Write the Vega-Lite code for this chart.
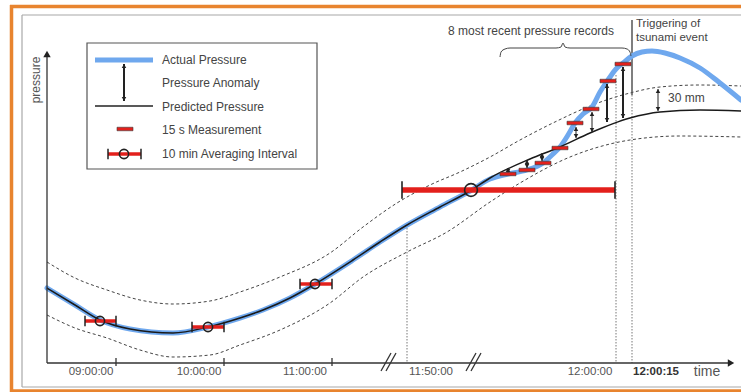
{
  "$schema": "https://vega.github.io/schema/vega-lite/v6.json",
  "width": 741,
  "height": 392,
  "padding": 0,
  "autosize": {"type": "none"},
  "config": {"view": {"stroke": null}, "text": {"font": "Liberation Sans"}},
  "datasets": {
    "curves": [
      {"series": "upper", "x": 47, "y": 262}, {"series": "upper", "x": 75, "y": 278}, {"series": "upper", "x": 107, "y": 290}, {"series": "upper", "x": 140, "y": 300}, {"series": "upper", "x": 173, "y": 304}, {"series": "upper", "x": 210, "y": 301}, {"series": "upper", "x": 240, "y": 292}, {"series": "upper", "x": 280, "y": 277}, {"series": "upper", "x": 330, "y": 253}, {"series": "upper", "x": 363, "y": 227}, {"series": "upper", "x": 397, "y": 203}, {"series": "upper", "x": 430, "y": 185}, {"series": "upper", "x": 460, "y": 172}, {"series": "upper", "x": 490, "y": 157}, {"series": "upper", "x": 520, "y": 140}, {"series": "upper", "x": 557, "y": 121}, {"series": "upper", "x": 590, "y": 106}, {"series": "upper", "x": 630, "y": 93}, {"series": "upper", "x": 660, "y": 87}, {"series": "upper", "x": 700, "y": 85}, {"series": "upper", "x": 741, "y": 86},
      {"series": "lower", "x": 47, "y": 315}, {"series": "lower", "x": 75, "y": 328}, {"series": "lower", "x": 107, "y": 338}, {"series": "lower", "x": 140, "y": 350}, {"series": "lower", "x": 173, "y": 357}, {"series": "lower", "x": 210, "y": 355}, {"series": "lower", "x": 240, "y": 345}, {"series": "lower", "x": 280, "y": 330}, {"series": "lower", "x": 330, "y": 303}, {"series": "lower", "x": 363, "y": 277}, {"series": "lower", "x": 407, "y": 252}, {"series": "lower", "x": 447, "y": 232}, {"series": "lower", "x": 490, "y": 202}, {"series": "lower", "x": 520, "y": 183}, {"series": "lower", "x": 570, "y": 157}, {"series": "lower", "x": 630, "y": 140}, {"series": "lower", "x": 680, "y": 136}, {"series": "lower", "x": 741, "y": 137},
      {"series": "predicted", "x": 47, "y": 288}, {"series": "predicted", "x": 75, "y": 305}, {"series": "predicted", "x": 100, "y": 320}, {"series": "predicted", "x": 130, "y": 329}, {"series": "predicted", "x": 173, "y": 333}, {"series": "predicted", "x": 208, "y": 327}, {"series": "predicted", "x": 240, "y": 318}, {"series": "predicted", "x": 263, "y": 310}, {"series": "predicted", "x": 290, "y": 298}, {"series": "predicted", "x": 315, "y": 284}, {"series": "predicted", "x": 353, "y": 260}, {"series": "predicted", "x": 380, "y": 242}, {"series": "predicted", "x": 407, "y": 225}, {"series": "predicted", "x": 440, "y": 207}, {"series": "predicted", "x": 470, "y": 191}, {"series": "predicted", "x": 490, "y": 178}, {"series": "predicted", "x": 530, "y": 159}, {"series": "predicted", "x": 560, "y": 147}, {"series": "predicted", "x": 590, "y": 133}, {"series": "predicted", "x": 630, "y": 118}, {"series": "predicted", "x": 660, "y": 112}, {"series": "predicted", "x": 700, "y": 110}, {"series": "predicted", "x": 741, "y": 111},
      {"series": "actual", "x": 47, "y": 288}, {"series": "actual", "x": 75, "y": 305}, {"series": "actual", "x": 100, "y": 320}, {"series": "actual", "x": 130, "y": 329}, {"series": "actual", "x": 173, "y": 333}, {"series": "actual", "x": 208, "y": 327}, {"series": "actual", "x": 240, "y": 318}, {"series": "actual", "x": 263, "y": 310}, {"series": "actual", "x": 290, "y": 298}, {"series": "actual", "x": 315, "y": 284}, {"series": "actual", "x": 353, "y": 260}, {"series": "actual", "x": 380, "y": 242}, {"series": "actual", "x": 407, "y": 225}, {"series": "actual", "x": 440, "y": 207}, {"series": "actual", "x": 470, "y": 191}, {"series": "actual", "x": 490, "y": 179}, {"series": "actual", "x": 508, "y": 174}, {"series": "actual", "x": 527, "y": 170}, {"series": "actual", "x": 543, "y": 163}, {"series": "actual", "x": 552, "y": 155}, {"series": "actual", "x": 560, "y": 147}, {"series": "actual", "x": 568, "y": 135}, {"series": "actual", "x": 575, "y": 123}, {"series": "actual", "x": 583, "y": 114}, {"series": "actual", "x": 592, "y": 107}, {"series": "actual", "x": 600, "y": 92}, {"series": "actual", "x": 608, "y": 80}, {"series": "actual", "x": 616, "y": 69}, {"series": "actual", "x": 623, "y": 63}, {"series": "actual", "x": 632, "y": 56}, {"series": "actual", "x": 642, "y": 52}, {"series": "actual", "x": 652, "y": 51}, {"series": "actual", "x": 665, "y": 53}, {"series": "actual", "x": 680, "y": 58}, {"series": "actual", "x": 700, "y": 68}, {"series": "actual", "x": 720, "y": 83}, {"series": "actual", "x": 741, "y": 100},
      {"series": "brace", "x": 500, "y": 57}, {"series": "brace", "x": 501, "y": 52}, {"series": "brace", "x": 505, "y": 49}, {"series": "brace", "x": 510, "y": 48}, {"series": "brace", "x": 556, "y": 48}, {"series": "brace", "x": 561, "y": 47}, {"series": "brace", "x": 563, "y": 43}, {"series": "brace", "x": 565, "y": 47}, {"series": "brace", "x": 570, "y": 48}, {"series": "brace", "x": 622, "y": 48}, {"series": "brace", "x": 627, "y": 49}, {"series": "brace", "x": 630, "y": 52}, {"series": "brace", "x": 631, "y": 56}
    ],
    "segments": [
      {"part": "border", "x": 10, "y": 6.5, "x2": 741, "y2": 6.5},
      {"part": "border", "x": 11.5, "y": 5, "x2": 11.5, "y2": 392},
      {"part": "border", "x": 10, "y": 391, "x2": 741, "y2": 391},
      {"part": "panel", "x": 22, "y": 15, "x2": 741, "y2": 15},
      {"part": "panel", "x": 22, "y": 15, "x2": 22, "y2": 387},
      {"part": "panel", "x": 22, "y": 387, "x2": 741, "y2": 387},
      {"part": "axis", "x": 47, "y": 363, "x2": 47, "y2": 55},
      {"part": "axis", "x": 47, "y": 363, "x2": 728, "y2": 363},
      {"part": "tick", "x": 116, "y": 358, "x2": 116, "y2": 366},
      {"part": "tick", "x": 224, "y": 358, "x2": 224, "y2": 366},
      {"part": "tick", "x": 332, "y": 358, "x2": 332, "y2": 366},
      {"part": "break", "x": 381, "y": 371, "x2": 391, "y2": 353},
      {"part": "break", "x": 386, "y": 371, "x2": 396, "y2": 353},
      {"part": "break", "x": 466, "y": 371, "x2": 476, "y2": 353},
      {"part": "break", "x": 471, "y": 371, "x2": 481, "y2": 353},
      {"part": "guide", "x": 407, "y": 225, "x2": 407, "y2": 363},
      {"part": "guide", "x": 616, "y": 75, "x2": 616, "y2": 363},
      {"part": "guide", "x": 632, "y": 95, "x2": 632, "y2": 363},
      {"part": "trigger", "x": 632, "y": 20, "x2": 632, "y2": 95},
      {"part": "legendBox", "x": 87, "y": 43, "x2": 317, "y2": 169},
      {"part": "keyActual", "x": 95, "y": 60, "x2": 153, "y2": 60},
      {"part": "keyPredicted", "x": 95, "y": 106, "x2": 153, "y2": 106}
    ],
    "axisHeads": [
      {"x": 47, "y": 54, "dir": "up"},
      {"x": 731, "y": 363, "dir": "right"}
    ],
    "arrows": [
      {"x": 124, "y": 64, "y2": 101, "weight": "thick"},
      {"x": 508, "y": 168, "y2": 173, "weight": "thin"},
      {"x": 527, "y": 160, "y2": 168, "weight": "thin"},
      {"x": 542, "y": 153, "y2": 161, "weight": "thin"},
      {"x": 576, "y": 127, "y2": 138, "weight": "thin"},
      {"x": 592, "y": 112, "y2": 132, "weight": "thin"},
      {"x": 607, "y": 84, "y2": 122, "weight": "thick"},
      {"x": 623, "y": 67, "y2": 118, "weight": "thick"},
      {"x": 658, "y": 89, "y2": 111, "weight": "thin"}
    ],
    "averages": [
      {"x": 124, "y": 154, "lo": 108, "hi": 141, "scope": "hourly"},
      {"x": 100, "y": 321, "lo": 85, "hi": 116, "scope": "hourly"},
      {"x": 208, "y": 327, "lo": 192, "hi": 224, "scope": "hourly"},
      {"x": 315, "y": 284, "lo": 300, "hi": 332, "scope": "hourly"},
      {"x": 471, "y": 190, "lo": 402, "hi": 615, "scope": "latest"}
    ],
    "measurements": [
      {"x": 125, "y": 129},
      {"x": 508, "y": 174},
      {"x": 527, "y": 170},
      {"x": 543, "y": 163},
      {"x": 560, "y": 148},
      {"x": 575, "y": 123},
      {"x": 591, "y": 109},
      {"x": 608, "y": 81},
      {"x": 623, "y": 64}
    ],
    "texts": [
      {"group": "left", "x": 162, "y": 60, "label": "Actual Pressure"},
      {"group": "left", "x": 162, "y": 83, "label": "Pressure Anomaly"},
      {"group": "left", "x": 162, "y": 107, "label": "Predicted Pressure"},
      {"group": "left", "x": 162, "y": 130, "label": "15 s Measurement"},
      {"group": "left", "x": 162, "y": 154, "label": "10 min Averaging Interval"},
      {"group": "note", "x": 636, "y": 24, "label": "Triggering of"},
      {"group": "note", "x": 636, "y": 37.5, "label": "tsunami event"},
      {"group": "left", "x": 668, "y": 98, "label": "30 mm"},
      {"group": "center", "x": 531, "y": 31, "label": "8 most recent pressure records"},
      {"group": "axis", "x": 91, "y": 372, "label": "09:00:00"},
      {"group": "axis", "x": 199, "y": 372, "label": "10:00:00"},
      {"group": "axis", "x": 305, "y": 372, "label": "11:00:00"},
      {"group": "axis", "x": 431, "y": 372, "label": "11:50:00"},
      {"group": "axis", "x": 590, "y": 372, "label": "12:00:00"},
      {"group": "trigger", "x": 656, "y": 372, "label": "12:00:15"},
      {"group": "unit", "x": 707, "y": 372, "label": "time"},
      {"group": "vertical", "x": 36, "y": 80, "label": "pressure"}
    ]
  },
  "encoding": {
    "x": {"field": "x", "type": "quantitative", "scale": {"domain": [0, 741], "nice": false, "zero": false}, "axis": null},
    "y": {"field": "y", "type": "quantitative", "scale": {"domain": [0, 392], "nice": false, "zero": false, "reverse": true}, "axis": null}
  },
  "layer": [
    {"data": {"name": "segments"}, "transform": [{"filter": "datum.part == 'border'"}],
     "mark": {"type": "rule", "color": "#e8842f", "strokeWidth": 3.5},
     "encoding": {"x2": {"field": "x2"}, "y2": {"field": "y2"}}},
    {"data": {"name": "segments"}, "transform": [{"filter": "datum.part == 'panel'"}],
     "mark": {"type": "rule", "color": "#a8a8a8", "strokeWidth": 1.2},
     "encoding": {"x2": {"field": "x2"}, "y2": {"field": "y2"}}},
    {"data": {"name": "curves"}, "transform": [{"filter": "datum.series == 'upper' || datum.series == 'lower'"}],
     "mark": {"type": "line", "interpolate": "monotone", "color": "#444", "strokeWidth": 1, "strokeDash": [3, 2.5]},
     "encoding": {"detail": {"field": "series"}}},
    {"data": {"name": "segments"}, "transform": [{"filter": "datum.part == 'guide'"}],
     "mark": {"type": "rule", "color": "#777", "strokeWidth": 1, "strokeDash": [1.5, 1.5]},
     "encoding": {"x2": {"field": "x2"}, "y2": {"field": "y2"}}},
    {"data": {"name": "segments"}, "transform": [{"filter": "datum.part == 'trigger'"}],
     "mark": {"type": "rule", "color": "#555", "strokeWidth": 1.5},
     "encoding": {"x2": {"field": "x2"}, "y2": {"field": "y2"}}},
    {"data": {"name": "curves"}, "transform": [{"filter": "datum.series == 'actual'"}],
     "mark": {"type": "line", "interpolate": "monotone", "color": "#6fa8ee", "strokeWidth": 5, "strokeCap": "round"}},
    {"data": {"name": "curves"}, "transform": [{"filter": "datum.series == 'predicted'"}],
     "mark": {"type": "line", "interpolate": "monotone", "color": "#1a1a1a", "strokeWidth": 1.5}},
    {"data": {"name": "curves"}, "transform": [{"filter": "datum.series == 'brace'"}],
     "mark": {"type": "line", "interpolate": "monotone", "color": "#444", "strokeWidth": 1}},
    {"data": {"name": "segments"}, "transform": [{"filter": "datum.part == 'axis'"}],
     "mark": {"type": "rule", "color": "#333", "strokeWidth": 1.3},
     "encoding": {"x2": {"field": "x2"}, "y2": {"field": "y2"}}},
    {"data": {"name": "segments"}, "transform": [{"filter": "datum.part == 'tick' || datum.part == 'break'"}],
     "mark": {"type": "rule", "color": "#333", "strokeWidth": 1.3},
     "encoding": {"x2": {"field": "x2"}, "y2": {"field": "y2"}}},
    {"data": {"name": "axisHeads"},
     "mark": {"type": "point", "filled": true, "color": "#222", "size": 55, "opacity": 1},
     "encoding": {"shape": {"field": "dir", "type": "nominal", "scale": {"domain": ["up", "right"], "range": ["triangle-up", "triangle-right"]}, "legend": null}}},
    {"data": {"name": "segments"}, "transform": [{"filter": "datum.part == 'legendBox'"}],
     "mark": {"type": "rect", "fill": "#ffffff", "fillOpacity": 0, "stroke": "#555", "strokeWidth": 1.2},
     "encoding": {"x2": {"field": "x2"}, "y2": {"field": "y2"}}},
    {"data": {"name": "segments"}, "transform": [{"filter": "datum.part == 'keyActual'"}],
     "mark": {"type": "rule", "color": "#6fa8ee", "strokeWidth": 5},
     "encoding": {"x2": {"field": "x2"}, "y2": {"field": "y2"}}},
    {"data": {"name": "segments"}, "transform": [{"filter": "datum.part == 'keyPredicted'"}],
     "mark": {"type": "rule", "color": "#222", "strokeWidth": 1.3},
     "encoding": {"x2": {"field": "x2"}, "y2": {"field": "y2"}}},
    {"data": {"name": "arrows"}, "transform": [{"filter": "datum.weight == 'thin'"}],
     "mark": {"type": "rule", "color": "#222", "strokeWidth": 1},
     "encoding": {"y2": {"field": "y2"}}},
    {"data": {"name": "arrows"}, "transform": [{"filter": "datum.weight == 'thick'"}],
     "mark": {"type": "rule", "color": "#222", "strokeWidth": 2},
     "encoding": {"y2": {"field": "y2"}}},
    {"data": {"name": "arrows"},
     "mark": {"type": "point", "shape": "triangle-up", "filled": true, "color": "#222", "size": 20, "opacity": 1, "yOffset": 2}},
    {"data": {"name": "arrows"},
     "mark": {"type": "point", "shape": "triangle-down", "filled": true, "color": "#222", "size": 20, "opacity": 1, "yOffset": -2},
     "encoding": {"y": {"field": "y2", "type": "quantitative"}}},
    {"data": {"name": "averages"}, "transform": [{"filter": "datum.scope == 'hourly'"}],
     "mark": {"type": "rule", "color": "#e3201c", "strokeWidth": 3.5},
     "encoding": {"x": {"field": "lo", "type": "quantitative"}, "x2": {"field": "hi"}}},
    {"data": {"name": "averages"}, "transform": [{"filter": "datum.scope == 'latest'"}],
     "mark": {"type": "rule", "color": "#e3201c", "strokeWidth": 5.5},
     "encoding": {"x": {"field": "lo", "type": "quantitative"}, "x2": {"field": "hi"}}},
    {"data": {"name": "averages"}, "transform": [{"filter": "datum.scope == 'hourly'"}],
     "mark": {"type": "point", "shape": "M0,-1V1", "filled": false, "color": "#222", "strokeWidth": 1.5, "opacity": 1, "size": 110},
     "encoding": {"x": {"field": "lo", "type": "quantitative"}}},
    {"data": {"name": "averages"}, "transform": [{"filter": "datum.scope == 'hourly'"}],
     "mark": {"type": "point", "shape": "M0,-1V1", "filled": false, "color": "#222", "strokeWidth": 1.5, "opacity": 1, "size": 110},
     "encoding": {"x": {"field": "hi", "type": "quantitative"}}},
    {"data": {"name": "averages"}, "transform": [{"filter": "datum.scope == 'latest'"}],
     "mark": {"type": "point", "shape": "M0,-1V1", "filled": false, "color": "#222", "strokeWidth": 1.6, "opacity": 1, "size": 300},
     "encoding": {"x": {"field": "lo", "type": "quantitative"}}},
    {"data": {"name": "averages"}, "transform": [{"filter": "datum.scope == 'latest'"}],
     "mark": {"type": "point", "shape": "M0,-1V1", "filled": false, "color": "#222", "strokeWidth": 1.6, "opacity": 1, "size": 300},
     "encoding": {"x": {"field": "hi", "type": "quantitative"}}},
    {"data": {"name": "averages"}, "transform": [{"filter": "datum.scope == 'hourly'"}],
     "mark": {"type": "point", "shape": "circle", "filled": false, "color": "#222", "strokeWidth": 1.6, "opacity": 1, "size": 85}},
    {"data": {"name": "averages"}, "transform": [{"filter": "datum.scope == 'latest'"}],
     "mark": {"type": "point", "shape": "circle", "filled": false, "color": "#222", "strokeWidth": 1.6, "opacity": 1, "size": 165}},
    {"data": {"name": "measurements"},
     "mark": {"type": "point", "shape": "M-1,-0.22H1V0.22H-1Z", "filled": true, "fill": "#e3201c", "fillOpacity": 1, "stroke": "#3a3a3a", "strokeWidth": 0.6, "size": 256, "opacity": 1}},
    {"data": {"name": "texts"}, "transform": [{"filter": "datum.group == 'left'"}],
     "mark": {"type": "text", "align": "left", "baseline": "middle", "fontSize": 12, "color": "#444"},
     "encoding": {"text": {"field": "label"}}},
    {"data": {"name": "texts"}, "transform": [{"filter": "datum.group == 'note'"}],
     "mark": {"type": "text", "align": "left", "baseline": "middle", "fontSize": 11.5, "color": "#444"},
     "encoding": {"text": {"field": "label"}}},
    {"data": {"name": "texts"}, "transform": [{"filter": "datum.group == 'center'"}],
     "mark": {"type": "text", "align": "center", "baseline": "middle", "fontSize": 12, "color": "#444"},
     "encoding": {"text": {"field": "label"}}},
    {"data": {"name": "texts"}, "transform": [{"filter": "datum.group == 'axis'"}],
     "mark": {"type": "text", "align": "center", "baseline": "middle", "fontSize": 11.5, "color": "#555"},
     "encoding": {"text": {"field": "label"}}},
    {"data": {"name": "texts"}, "transform": [{"filter": "datum.group == 'trigger'"}],
     "mark": {"type": "text", "align": "center", "baseline": "middle", "fontSize": 11.5, "fontWeight": "bold", "color": "#333"},
     "encoding": {"text": {"field": "label"}}},
    {"data": {"name": "texts"}, "transform": [{"filter": "datum.group == 'unit'"}],
     "mark": {"type": "text", "align": "center", "baseline": "middle", "fontSize": 14, "color": "#555"},
     "encoding": {"text": {"field": "label"}}},
    {"data": {"name": "texts"}, "transform": [{"filter": "datum.group == 'vertical'"}],
     "mark": {"type": "text", "align": "center", "baseline": "middle", "fontSize": 12, "angle": 270, "color": "#555"},
     "encoding": {"text": {"field": "label"}}}
  ]
}
